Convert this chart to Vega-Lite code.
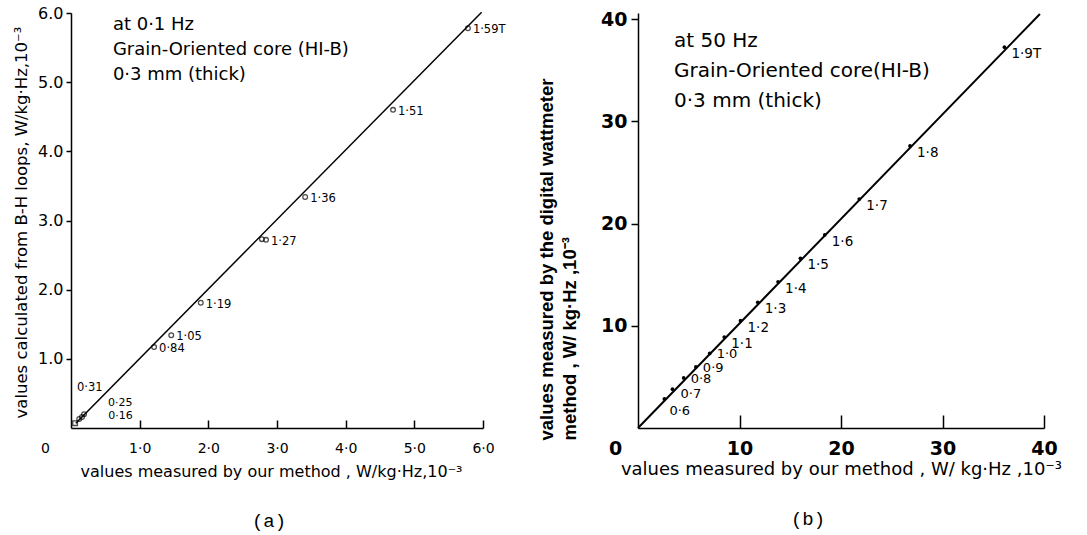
{
  "$schema": "https://vega.github.io/schema/vega-lite/v6.json",
  "background": "white",
  "padding": {"left": 13, "top": 5, "right": 5, "bottom": 5},
  "spacing": 155,
  "bounds": "flush",
  "datasets": {
    "ptsA": [
      {"x": 5.78, "y": 5.78, "B": "1·59T"},
      {"x": 4.69, "y": 4.6, "B": "1·51"},
      {"x": 3.41, "y": 3.34, "B": "1·36"},
      {"x": 2.78, "y": 2.73, "B": null},
      {"x": 2.84, "y": 2.72, "B": "1·27"},
      {"x": 1.89, "y": 1.81, "B": "1·19"},
      {"x": 1.46, "y": 1.34, "B": "1·05"},
      {"x": 1.21, "y": 1.17, "B": "0·84"},
      {"x": 0.19, "y": 0.2, "B": "0·31"},
      {"x": 0.16, "y": 0.16, "B": "0·25"},
      {"x": 0.12, "y": 0.13, "B": "0·16"}
    ],
    "origA": [{"x": 0.06, "y": 0.07}],
    "lineA": [{"x": 0.07, "y": 0.07}, {"x": 5.98, "y": 6.01}],
    "ptsB": [
      {"x": 36.1, "y": 37.25, "B": "1·9T"},
      {"x": 26.8, "y": 27.6, "B": "1·8"},
      {"x": 21.8, "y": 22.4, "B": "1·7"},
      {"x": 18.4, "y": 18.9, "B": "1·6"},
      {"x": 16.0, "y": 16.6, "B": "1·5"},
      {"x": 13.8, "y": 14.3, "B": "1·4"},
      {"x": 11.8, "y": 12.3, "B": "1·3"},
      {"x": 10.1, "y": 10.5, "B": "1·2"},
      {"x": 8.5, "y": 8.9, "B": "1·1"},
      {"x": 7.06, "y": 7.3, "B": "1·0"},
      {"x": 5.7, "y": 5.97, "B": "0·9"},
      {"x": 4.5, "y": 4.9, "B": "0·8"},
      {"x": 3.4, "y": 3.8, "B": "0·7"},
      {"x": 2.6, "y": 2.84, "B": "0·6"}
    ],
    "lineB": [{"x": 0, "y": 0}, {"x": 39.6, "y": 40.5}]
  },
  "config": {
    "view": {"stroke": null},
    "axis": {
      "grid": false,
      "domainColor": "black",
      "tickColor": "black",
      "labelColor": "black",
      "titleColor": "black",
      "domainWidth": 1.5,
      "tickWidth": 1.5,
      "labelFont": "DejaVu Sans",
      "titleFont": "DejaVu Sans",
      "titleFontWeight": "normal",
      "labelOverlap": false,
      "labelFlush": false
    },
    "text": {"font": "DejaVu Sans", "color": "black"}
  },
  "hconcat": [
    {
      "width": 412,
      "height": 415,
      "title": {"text": "(a)", "orient": "bottom", "font": "Liberation Mono", "fontSize": 19, "fontWeight": "normal", "color": "black", "dx": -8, "offset": 33},
      "layer": [
        {
          "data": {"name": "lineA"},
          "mark": {"type": "line", "color": "black", "strokeWidth": 1.5},
          "encoding": {
            "x": {
              "field": "x", "type": "quantitative",
              "scale": {"domain": [0, 6], "nice": false, "zero": true},
              "axis": {
                "values": [0, 1, 2, 3, 4, 5, 6],
                "labelExpr": "datum.value == 0 ? '0' : replace(format(datum.value, '.1f'), '.', '·')",
                "labelFontSize": 14,
                "labelPadding": 21,
                "tickSize": -8,
                "labelOffset": {"condition": {"test": "datum.value == 0", "value": -26}, "value": 0},
                "tickOpacity": {"condition": {"test": "datum.value == 0", "value": 0}, "value": 1},
                "title": "values measured by  our method , W/kg·Hz,10⁻³",
                "titleFontSize": 16,
                "titlePadding": 8,
                "titleX": 200
              }
            },
            "y": {
              "field": "y", "type": "quantitative",
              "scale": {"domain": [0, 6], "nice": false},
              "axis": {
                "values": [1, 2, 3, 4, 5, 6],
                "format": ".1f",
                "labelFontSize": 16,
                "labelPadding": 3,
                "tickSize": 5,
                "title": "values calculated from B-H loops, W/kg·Hz,10⁻³",
                "titleFontSize": 16.5,
                "titleAnchor": "start",
                "titleY": 405,
                "titlePadding": 8
              }
            }
          }
        },
        {
          "data": {"name": "ptsA"},
          "mark": {"type": "point", "shape": "circle", "filled": false, "size": 22, "strokeWidth": 1.3, "color": "black"},
          "encoding": {
            "x": {"field": "x", "type": "quantitative"},
            "y": {"field": "y", "type": "quantitative"}
          }
        },
        {
          "data": {"name": "origA"},
          "mark": {"type": "point", "shape": "square", "filled": false, "size": 22, "strokeWidth": 1.3, "color": "black"},
          "encoding": {
            "x": {"field": "x", "type": "quantitative"},
            "y": {"field": "y", "type": "quantitative"}
          }
        },
        {
          "data": {"name": "ptsA"},
          "transform": [{"filter": "datum.B != null && datum.B != '0·31' && datum.B != '0·25' && datum.B != '0·16'"}],
          "mark": {"type": "text", "align": "left", "baseline": "middle", "dx": 5, "dy": 2, "fontSize": 11.5},
          "encoding": {
            "x": {"field": "x", "type": "quantitative"},
            "y": {"field": "y", "type": "quantitative"},
            "text": {"field": "B", "type": "nominal"}
          }
        },
        {
          "data": {"name": "ptsA"},
          "transform": [{"filter": "datum.B == '0·31'"}],
          "mark": {"type": "text", "align": "left", "baseline": "middle", "dx": -7, "dy": -26, "fontSize": 11.5},
          "encoding": {
            "x": {"field": "x", "type": "quantitative"},
            "y": {"field": "y", "type": "quantitative"},
            "text": {"field": "B", "type": "nominal"}
          }
        },
        {
          "data": {"name": "ptsA"},
          "transform": [{"filter": "datum.B == '0·25'"}],
          "mark": {"type": "text", "align": "left", "baseline": "middle", "dx": 26, "dy": -14, "fontSize": 11},
          "encoding": {
            "x": {"field": "x", "type": "quantitative"},
            "y": {"field": "y", "type": "quantitative"},
            "text": {"field": "B", "type": "nominal"}
          }
        },
        {
          "data": {"name": "ptsA"},
          "transform": [{"filter": "datum.B == '0·16'"}],
          "mark": {"type": "text", "align": "left", "baseline": "middle", "dx": 29, "dy": -3, "fontSize": 11},
          "encoding": {
            "x": {"field": "x", "type": "quantitative"},
            "y": {"field": "y", "type": "quantitative"},
            "text": {"field": "B", "type": "nominal"}
          }
        },
        {
          "data": {"values": [{}]},
          "mark": {"type": "text", "align": "left", "baseline": "alphabetic", "fontSize": 18, "lineHeight": 25,
                   "text": ["at 0·1 Hz", "Grain-Oriented core (HI-B)", "0·3 mm (thick)"]},
          "encoding": {
            "x": {"datum": 0.61, "type": "quantitative"},
            "y": {"datum": 5.75, "type": "quantitative"}
          }
        }
      ]
    },
    {
      "width": 406,
      "height": 415,
      "title": {"text": "(b)", "orient": "bottom", "font": "Liberation Mono", "fontSize": 19, "fontWeight": "normal", "color": "black", "dx": -33, "offset": 32},
      "layer": [
        {
          "data": {"name": "lineB"},
          "mark": {"type": "line", "color": "black", "strokeWidth": 2},
          "encoding": {
            "x": {
              "field": "x", "type": "quantitative",
              "scale": {"domain": [0, 40], "nice": false},
              "axis": {
                "values": [0, 10, 20, 30, 40],
                "format": "d",
                "labelFontSize": 19,
                "labelFontWeight": "bold",
                "labelPadding": 24,
                "tickSize": -13,
                "labelOffset": {"condition": {"test": "datum.value == 0", "value": -23}, "value": 0},
                "tickOpacity": {"condition": {"test": "datum.value == 0", "value": 0}, "value": 1},
                "title": "values measured by  our method , W/ kg·Hz ,10⁻³",
                "titleFontSize": 18,
                "titlePadding": 2
              }
            },
            "y": {
              "field": "y", "type": "quantitative",
              "scale": {"domain": [0, 40.6], "nice": false},
              "axis": {
                "values": [10, 20, 30, 40],
                "format": "d",
                "labelFontSize": 19,
                "labelFontWeight": "bold",
                "labelPadding": 4,
                "tickSize": 7,
                "title": ["values measured by the digital wattmeter", "method , W/ kg·Hz ,10⁻³"],
                "titleFont": "Liberation Sans",
                "titleFontWeight": "bold",
                "titleFontSize": 18.5,
                "titleLineHeight": 23,
                "titleAnchor": "start",
                "titleY": 427,
                "titlePadding": 21
              }
            }
          }
        },
        {
          "data": {"name": "ptsB"},
          "mark": {"type": "circle", "size": 14, "color": "black", "opacity": 1},
          "encoding": {
            "x": {"field": "x", "type": "quantitative"},
            "y": {"field": "y", "type": "quantitative"}
          }
        },
        {
          "data": {"name": "ptsB"},
          "transform": [{"filter": "datum.x > 8"}],
          "mark": {"type": "text", "align": "left", "baseline": "middle", "dx": 7, "dy": 7, "fontSize": 13.5},
          "encoding": {
            "x": {"field": "x", "type": "quantitative"},
            "y": {"field": "y", "type": "quantitative"},
            "text": {"field": "B", "type": "nominal"}
          }
        },
        {
          "data": {"name": "ptsB"},
          "transform": [{"filter": "datum.x > 4 && datum.x < 8"}],
          "mark": {"type": "text", "align": "left", "baseline": "middle", "dx": 7, "dy": 1, "fontSize": 13},
          "encoding": {
            "x": {"field": "x", "type": "quantitative"},
            "y": {"field": "y", "type": "quantitative"},
            "text": {"field": "B", "type": "nominal"}
          }
        },
        {
          "data": {"name": "ptsB"},
          "transform": [{"filter": "datum.B == '0·7'"}],
          "mark": {"type": "text", "align": "left", "baseline": "middle", "dx": 8, "dy": 5, "fontSize": 13},
          "encoding": {
            "x": {"field": "x", "type": "quantitative"},
            "y": {"field": "y", "type": "quantitative"},
            "text": {"field": "B", "type": "nominal"}
          }
        },
        {
          "data": {"name": "ptsB"},
          "transform": [{"filter": "datum.B == '0·6'"}],
          "mark": {"type": "text", "align": "left", "baseline": "middle", "dx": 5, "dy": 12, "fontSize": 13},
          "encoding": {
            "x": {"field": "x", "type": "quantitative"},
            "y": {"field": "y", "type": "quantitative"},
            "text": {"field": "B", "type": "nominal"}
          }
        },
        {
          "data": {"values": [{}]},
          "mark": {"type": "text", "align": "left", "baseline": "alphabetic", "fontSize": 20, "lineHeight": 30,
                   "text": ["at 50 Hz", "Grain-Oriented core(HI-B)", "0·3 mm (thick)"]},
          "encoding": {
            "x": {"datum": 3.55, "type": "quantitative"},
            "y": {"datum": 37.26, "type": "quantitative"}
          }
        }
      ]
    }
  ]
}
